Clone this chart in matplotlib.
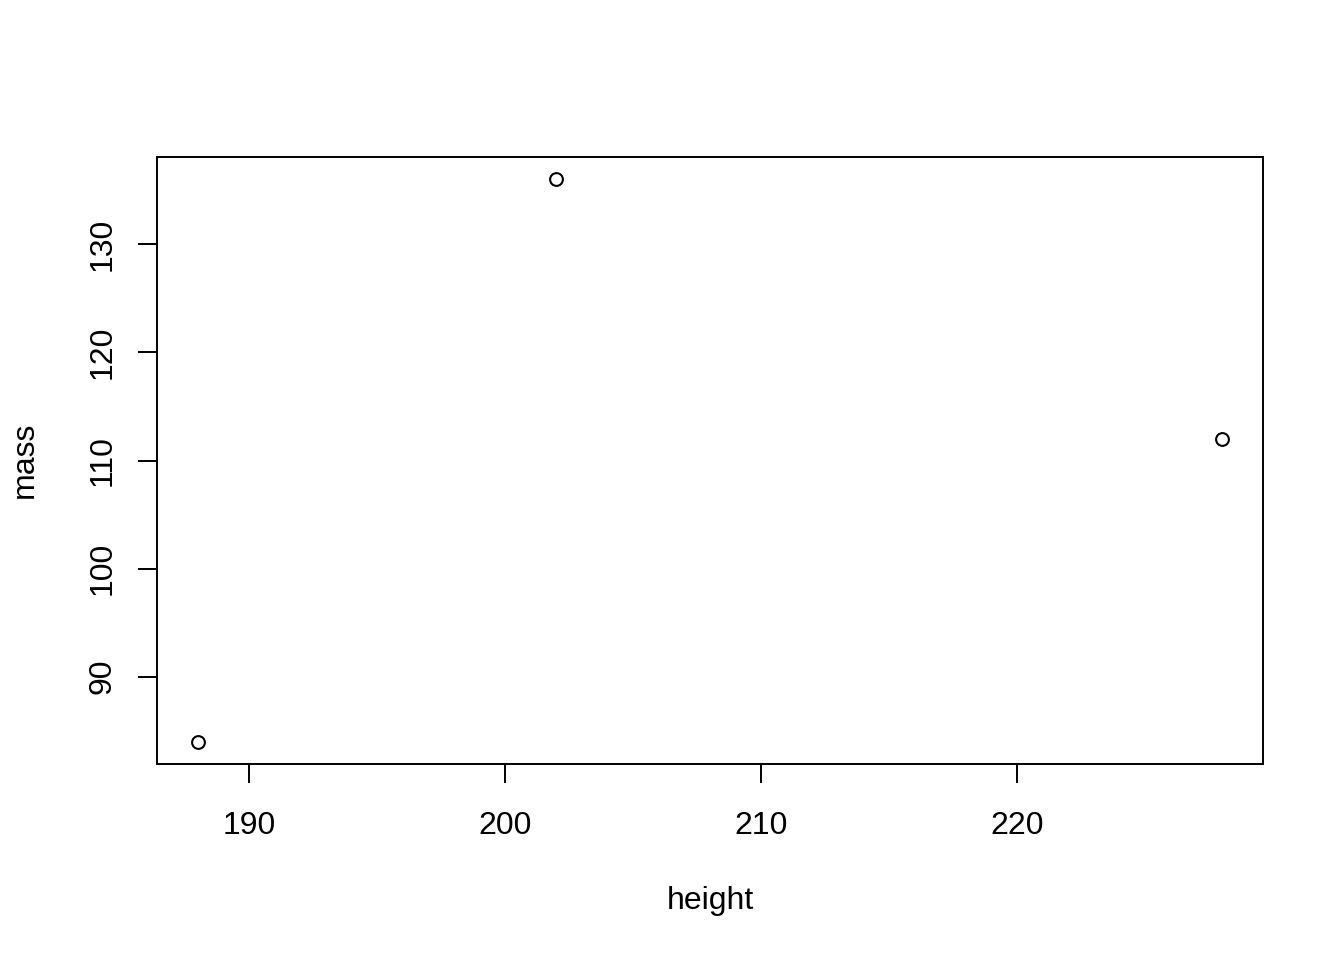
import matplotlib
matplotlib.use("Agg")
import matplotlib.pyplot as plt
from matplotlib.patches import Rectangle

height = [188, 202, 228]
mass = [84, 136, 112]
x_ticks = [190, 200, 210, 220]
y_ticks = [90, 100, 110, 120, 130]

plt.rcParams['font.family'] = ['Liberation Sans', 'DejaVu Sans']

fig = plt.figure(figsize=(13.44, 9.6), dpi=100)
ax = fig.add_axes([157/1344, (960-764)/960, (1263-157)/1344, (764-157)/960])

ax.plot(height, mass, linestyle='none', marker='o', markersize=9.2,
        markerfacecolor='none', markeredgecolor='black', markeredgewidth=1.5)

xmin, xmax = min(height), max(height)
ymin, ymax = min(mass), max(mass)
dx = (xmax - xmin) * 0.04
dy = (ymax - ymin) * 0.04
ax.set_xlim(xmin - dx, xmax + dx)
ax.set_ylim(ymin - dy, ymax + dy)

ax.set_xticks(x_ticks)
ax.set_yticks(y_ticks)
ax.set_xticklabels([str(v) for v in x_ticks])
ax.set_yticklabels([str(v) for v in y_ticks], rotation=90, va='center')

for s in ax.spines.values():
    s.set_visible(False)

ax.add_patch(Rectangle((0, 0), 1, 1, transform=ax.transAxes, fill=False,
                       edgecolor='black', linewidth=1.4, clip_on=False))

ax.tick_params(axis='both', direction='out', length=13.7, width=1.4,
               labelsize=23, color='black')
ax.tick_params(axis='x', pad=20)
ax.tick_params(axis='y', pad=15)

fig.text(710/1344, (960-901)/960, 'height', ha='center', va='center', fontsize=23)
fig.text(25/1344, (960-460)/960, 'mass', ha='center', va='center', fontsize=23, rotation=90)

fig.savefig('out.png', dpi=100)
